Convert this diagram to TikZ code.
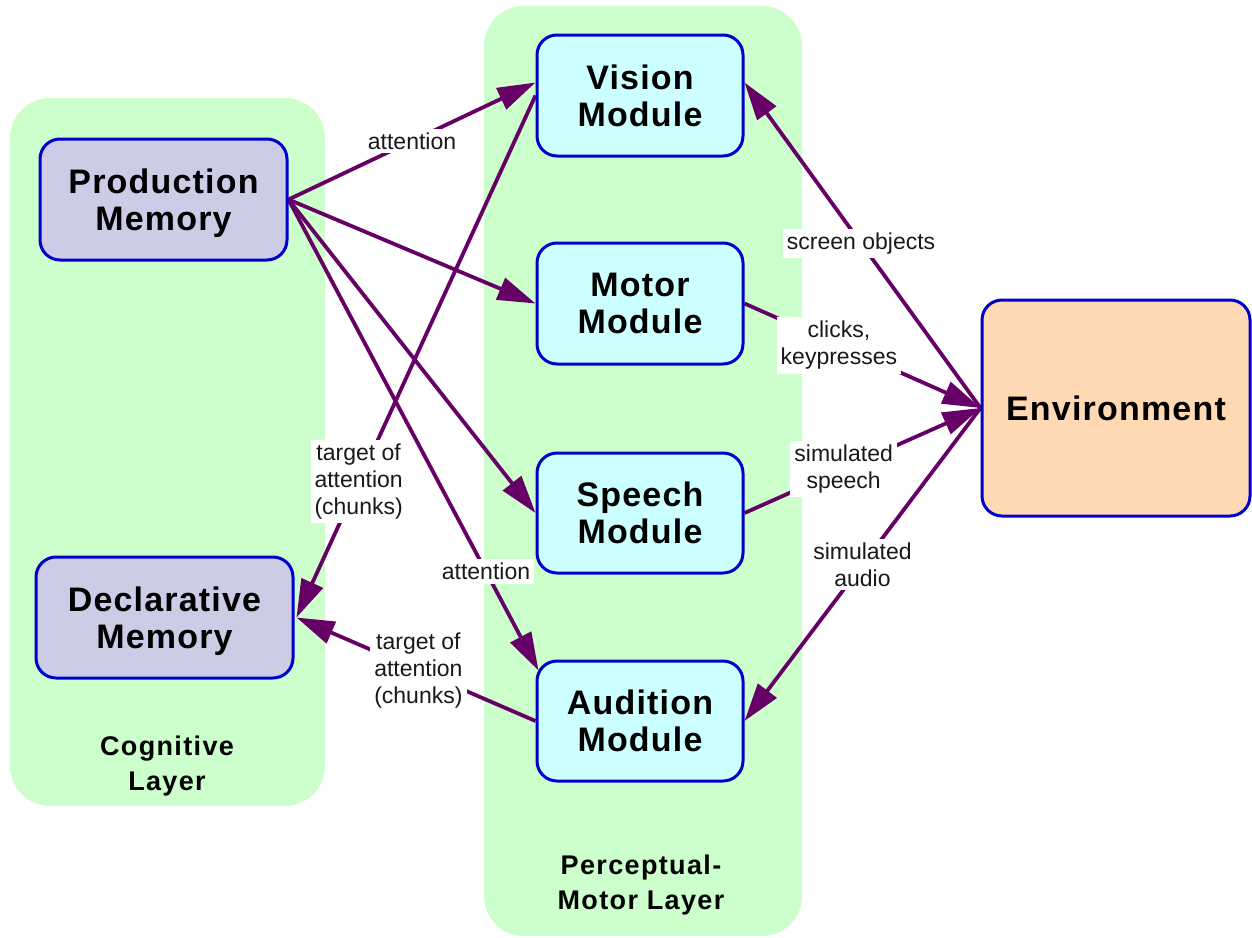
\documentclass[tikz,border=0pt]{standalone}
\usepackage{fontspec}
\setmainfont{Liberation Sans}
\newfontfamily\boxfont[LetterSpace=3.5]{Liberation Sans}
\newfontfamily\layfont[LetterSpace=5]{Liberation Sans}
\usetikzlibrary{arrows.meta}
\definecolor{bggreen}{HTML}{CCFFCC}
\definecolor{lav}{HTML}{CCCCE6}
\definecolor{cyanbox}{HTML}{CCFFFF}
\definecolor{peach}{HTML}{FFD9B3}
\definecolor{boxblue}{HTML}{0000CC}
\definecolor{purp}{HTML}{660066}
\pgfdeclarelayer{bg}
\pgfdeclarelayer{mid}
\pgfsetlayers{bg,mid,main}
\tikzset{
  layer/.style={fill=bggreen, rounded corners=40pt, inner sep=0pt},
  box/.style={draw=boxblue, line width=3pt, rounded corners=20pt, align=center,
    inner sep=0pt, text depth=0pt, font=\boxfont\bfseries\fontsize{34}{37}\selectfont},
  laytxt/.style={align=center, font=\layfont\bfseries\fontsize{27}{35}\selectfont},
  conn/.style={draw=purp, line width=3.8pt, -{Triangle[length=38pt 0 0,width=23pt 0]}},
  lbl/.style={fill=white, inner sep=4pt, align=center, text=black!90,
    font=\fontsize{23}{27}\selectfont},
}
\begin{document}
\begin{tikzpicture}[x=1pt,y=-1pt]
\useasboundingbox (0,0) rectangle (1252,937);
% layer backgrounds
\begin{pgfonlayer}{bg}
\node[layer, minimum width=315pt, minimum height=708pt] (coglayer) at (167.5,452) {};
\node[layer, minimum width=318pt, minimum height=930pt] (pmlayer) at (643,471) {};
\end{pgfonlayer}
% boxes
\node[box, fill=lav, minimum width=247pt, minimum height=121pt] (pm) at (163.5,199.5) {Production\\Memory};
\node[box, fill=lav, minimum width=257pt, minimum height=121pt] (dm) at (164.5,617.5) {Declarative\\Memory};
\node[box, fill=cyanbox, minimum width=206pt, minimum height=121pt] (vis) at (640,95.5) {Vision\\Module};
\node[box, fill=cyanbox, minimum width=206pt, minimum height=121pt] (mot) at (640,303.5) {Motor\\Module};
\node[box, fill=cyanbox, minimum width=206pt, minimum height=120pt] (sp) at (640,513) {Speech\\Module};
\node[box, fill=cyanbox, minimum width=206pt, minimum height=120pt] (aud) at (640,721) {Audition\\Module};
\node[box, fill=peach, minimum width=268pt, minimum height=216pt] (env) at (1116,408) {Environment};
% layer labels
\node[laytxt] (coglbl) at (167,766) {Cognitive\\Layer};
\node[laytxt] (pmlbl) at (641,885) {Perceptual-\\Motor Layer};
% connectors
\begin{pgfonlayer}{mid}
\draw[conn] (pm.east) -- node[lbl, pos=0.5] (l1) {attention} ([yshift=13pt]vis.west);
\draw[conn] (pm.east) -- (mot.west);
\draw[conn] (pm.east) -- (sp.west);
\draw[conn] (pm.east) -- node[lbl, pos=0.79] (l2) {attention} ([xshift=3pt,yshift=-11pt]aud.north west);
\draw[conn] (vis.west) -- node[lbl, pos=0.74] (l3) {target of\\attention\\(chunks)} ([xshift=2pt]dm.east);
\draw[conn] (aud.west) -- node[lbl, pos=0.49] (l4) {target of\\attention\\(chunks)} ([xshift=2pt]dm.east);
\draw[conn] (env.west) -- node[lbl, pos=0.506] (l5) {screen objects} ([yshift=13pt]vis.east);
\draw[conn] (mot.east) -- node[lbl, pos=0.40] (l6) {clicks,\\keypresses} (env.west);
\draw[conn] (sp.east) -- node[lbl, pos=0.42] (l7) {simulated\\speech} (env.west);
\draw[conn] (env.west) -- node[lbl, pos=0.50] (l8) {simulated\\audio} (aud.east);
\end{pgfonlayer}
\end{tikzpicture}
\end{document}
